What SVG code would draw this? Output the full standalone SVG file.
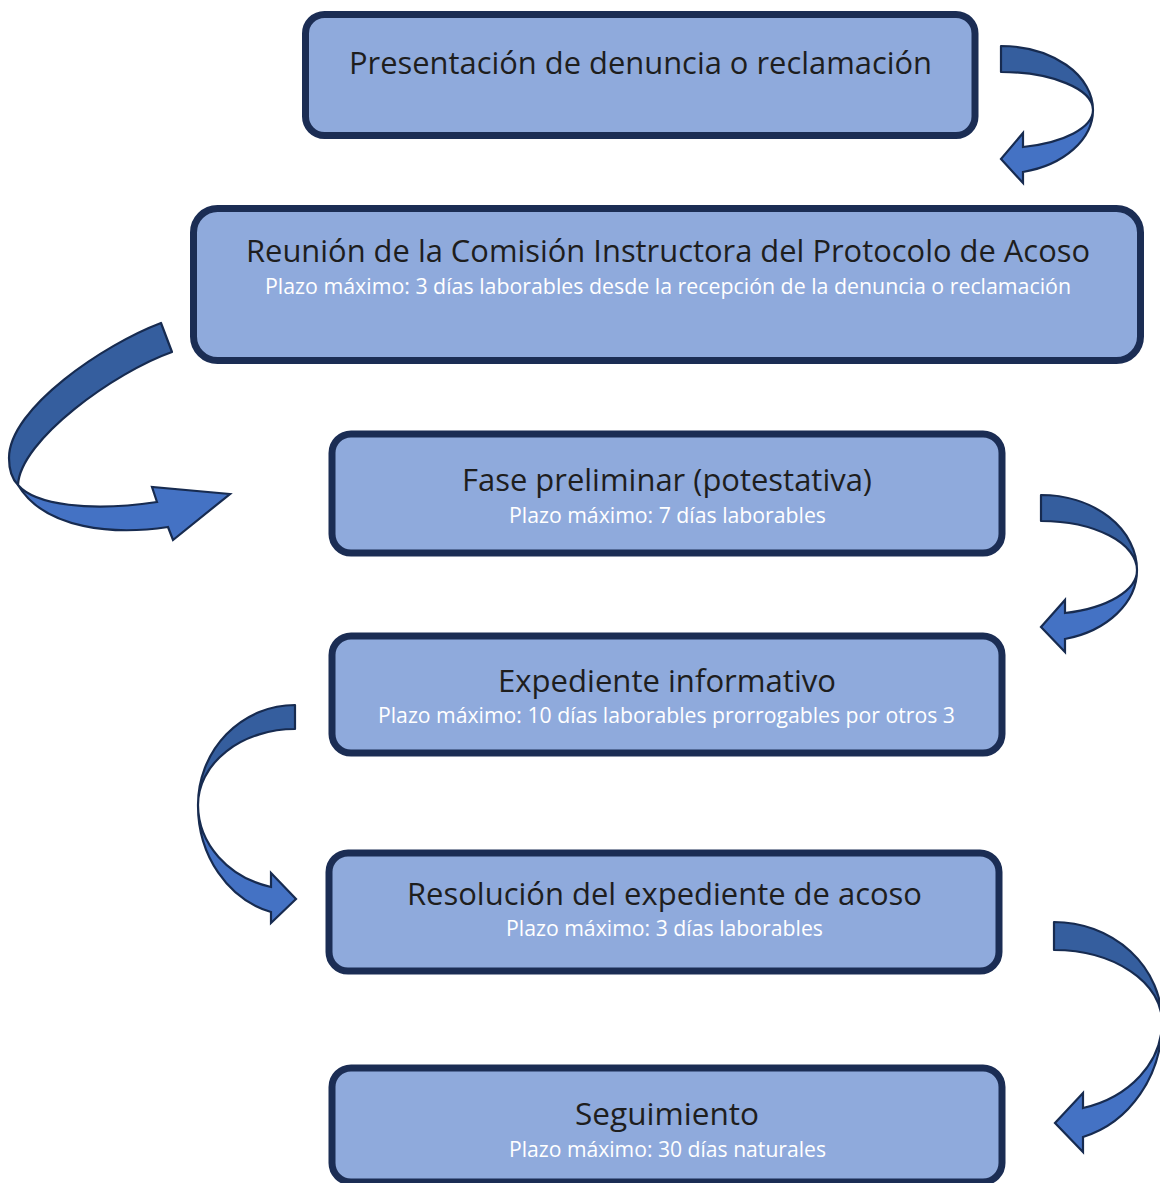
<svg xmlns="http://www.w3.org/2000/svg" width="1160" height="1183" viewBox="0 0 1160 1183">
<style>
.box{fill:#8FAADC;stroke:#1B2D54;stroke-width:7}
.t{font-family:"Open Sans","Noto Sans",sans-serif;font-size:31px;fill:#1E1E1E;text-anchor:middle}
.s{font-family:"Open Sans","Noto Sans",sans-serif;font-size:21px;fill:#FFFFFF;text-anchor:middle}
.back{fill:#355E9E;stroke:#172B50;stroke-width:2.2;stroke-linejoin:round}
.front{fill:#4472C4;stroke:#172B50;stroke-width:2.2;stroke-linejoin:miter}
</style>
<rect width="1160" height="1183" fill="#FFFFFF"/>
<g id="connectors">
  <g id="arrow1">
    <path class="back" d="M1001,46 A92,64 0 0 1 1093,110 A92,38 0 0 0 1001,72 Z"/>
    <path class="front" d="M1093,110 A92,64 0 0 1 1023,172 L1023,183 L1001,159 L1023,133 L1023,147 A92,38 0 0 0 1093,110 Z"/>
  </g>
  <g id="arrow2">
    <path class="back" d="M161,323 C105,344 9,408 9,458 C9,470 13,480 18,485 C20,440 115,372 172,352 Z"/>
    <path class="front" d="M18,485 C35,505 90,512 157,502 L152,487 L230,494 L173,540 L168,527 C115,535 45,530 18,485 Z"/>
  </g>
  <g id="arrow3">
    <path class="back" d="M1041,495 A96,75 0 0 1 1137,570 A96,49 0 0 0 1041,521 Z"/>
    <path class="front" d="M1137,570 A96,71 0 0 1 1065,639 L1065,652 L1041,627 L1065,600 L1065,613 A96,44 0 0 0 1137,570 Z"/>
  </g>
  <g id="arrow4">
    <path class="back" d="M295,705 A97,100 0 0 0 198,805 A97,76 0 0 1 295,729 Z"/>
    <path class="front" d="M198,805 A97,110 0 0 0 271,912 L271,923 L296,899 L271,873 L271,887 A97,85 0 0 1 198,805 Z"/>
  </g>
  <g id="arrow5">
    <path class="back" d="M1054,922 A108,100 0 0 1 1162,1022 A108,72 0 0 0 1054,950 Z"/>
    <path class="front" d="M1162,1022 A108,119 0 0 1 1083,1137 L1083,1152 L1055,1123 L1083,1093 L1083,1108 A108,89 0 0 0 1162,1022 Z"/>
  </g>
</g>
<g id="node1">
  <rect class="box" x="305.5" y="14.5" width="669.5" height="121" rx="19"/>
  <text class="t" x="640.5" y="74" textLength="583" lengthAdjust="spacingAndGlyphs">Presentación de denuncia o reclamación</text>
</g>
<g id="node2">
  <rect class="box" x="193.5" y="208.5" width="947" height="152" rx="24"/>
  <text class="t" x="668" y="262" textLength="844" lengthAdjust="spacingAndGlyphs">Reunión de la Comisión Instructora del Protocolo de Acoso</text>
  <text class="s" x="668" y="294" textLength="806" lengthAdjust="spacingAndGlyphs">Plazo máximo: 3 días laborables desde la recepción de la denuncia o reclamación</text>
</g>
<g id="node3">
  <rect class="box" x="332" y="434" width="670" height="119" rx="19"/>
  <text class="t" x="667" y="491" textLength="410" lengthAdjust="spacingAndGlyphs">Fase preliminar (potestativa)</text>
  <text class="s" x="667.5" y="523" textLength="317" lengthAdjust="spacingAndGlyphs">Plazo máximo: 7 días laborables</text>
</g>
<g id="node4">
  <rect class="box" x="332" y="636" width="670" height="117" rx="19"/>
  <text class="t" x="667" y="692" textLength="338" lengthAdjust="spacingAndGlyphs">Expediente informativo</text>
  <text class="s" x="666.5" y="723" textLength="577" lengthAdjust="spacingAndGlyphs">Plazo máximo: 10 días laborables prorrogables por otros 3</text>
</g>
<g id="node5">
  <rect class="box" x="329" y="853" width="670" height="118" rx="19"/>
  <text class="t" x="664.5" y="905" textLength="515" lengthAdjust="spacingAndGlyphs">Resolución del expediente de acoso</text>
  <text class="s" x="664.5" y="936" textLength="317" lengthAdjust="spacingAndGlyphs">Plazo máximo: 3 días laborables</text>
</g>
<g id="node6">
  <rect class="box" x="332" y="1068" width="670" height="114" rx="19"/>
  <text class="t" x="667" y="1125" textLength="184" lengthAdjust="spacingAndGlyphs">Seguimiento</text>
  <text class="s" x="667.5" y="1157" textLength="317" lengthAdjust="spacingAndGlyphs">Plazo máximo: 30 días naturales</text>
</g>
</svg>
